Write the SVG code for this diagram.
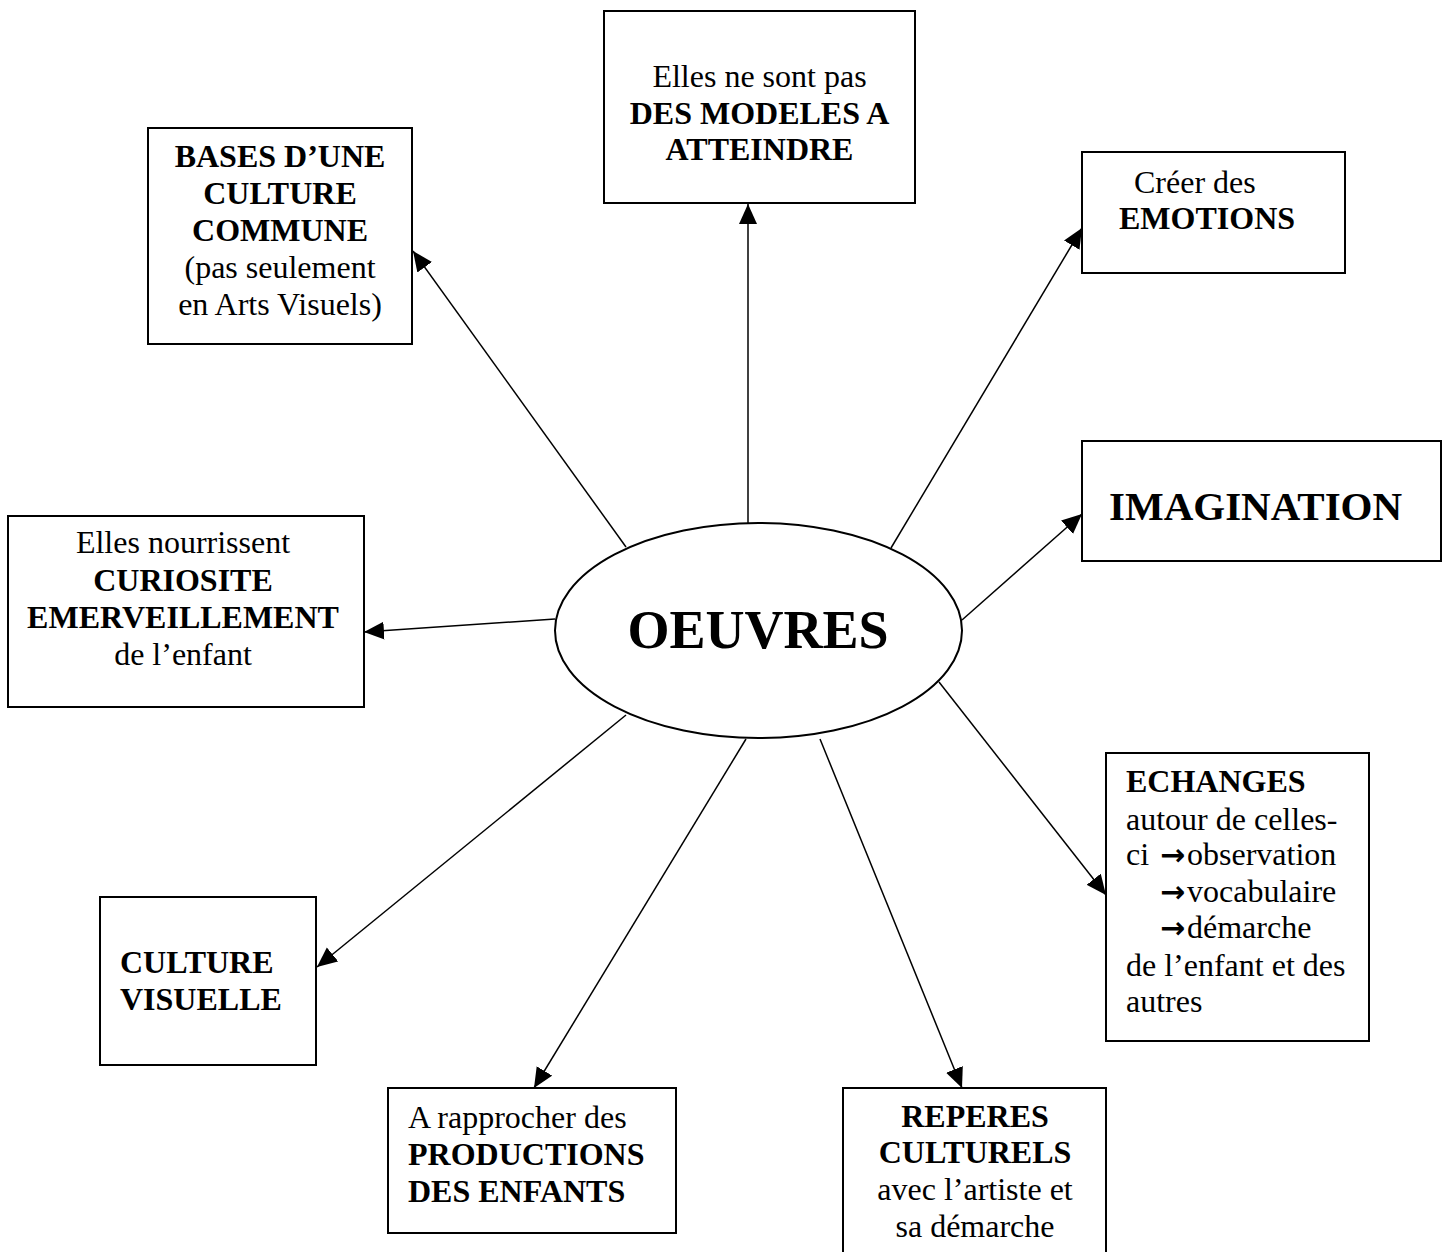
<svg xmlns="http://www.w3.org/2000/svg" width="1453" height="1252" viewBox="0 0 1453 1252">
<style>
  .box { fill: #fff; stroke: #000; stroke-width: 2; }
  .t { font-family: "Liberation Serif", "Times New Roman", serif; font-size: 32px; fill: #000; }
  .b { font-weight: bold; }
  .c { text-anchor: middle; }
  .ar { font-family: "DejaVu Sans", sans-serif; font-size: 30px; font-weight: bold; }
  .conn line { stroke: #000; stroke-width: 1.5; }
</style>
<defs>
  <marker id="ah" markerUnits="userSpaceOnUse" markerWidth="22" markerHeight="20" refX="20" refY="9" orient="auto">
    <path d="M0,0 L20,9 L0,18 z" fill="#000"/>
  </marker>
</defs>
<rect width="1453" height="1252" fill="#fff"/>

<g id="connectors" class="conn">
  <line x1="748" y1="523" x2="748" y2="204" marker-end="url(#ah)"/>
  <line x1="626" y1="547" x2="413" y2="251" marker-end="url(#ah)"/>
  <line x1="891" y1="548" x2="1082" y2="228" marker-end="url(#ah)"/>
  <line x1="962" y1="620" x2="1082" y2="514" marker-end="url(#ah)"/>
  <line x1="555" y1="619" x2="364" y2="632" marker-end="url(#ah)"/>
  <line x1="939" y1="682" x2="1106" y2="895" marker-end="url(#ah)"/>
  <line x1="626" y1="715" x2="317" y2="967" marker-end="url(#ah)"/>
  <line x1="746" y1="739" x2="534" y2="1088" marker-end="url(#ah)"/>
  <line x1="820" y1="739" x2="962" y2="1088" marker-end="url(#ah)"/>
</g>

<g id="oeuvres">
  <ellipse cx="758.5" cy="630.5" rx="203.5" ry="107.5" fill="#fff" stroke="#000" stroke-width="2"/>
  <text class="t b c" x="758" y="648" style="font-size:54px">OEUVRES</text>
</g>

<g id="modeles">
  <rect class="box" x="604" y="11" width="311" height="192"/>
  <text class="t c" x="759.5" y="87">Elles ne sont pas</text>
  <text class="t b c" x="759.5" y="124">DES MODELES A</text>
  <text class="t b c" x="759.5" y="160">ATTEINDRE</text>
</g>

<g id="bases">
  <rect class="box" x="148" y="128" width="264" height="216"/>
  <text class="t b c" x="280" y="167">BASES D’UNE</text>
  <text class="t b c" x="280" y="204">CULTURE</text>
  <text class="t b c" x="280" y="241">COMMUNE</text>
  <text class="t c" x="280" y="278">(pas seulement</text>
  <text class="t c" x="280" y="315">en Arts Visuels)</text>
</g>

<g id="emotions">
  <rect class="box" x="1082" y="152" width="263" height="121"/>
  <text class="t" x="1134" y="193">Créer des</text>
  <text class="t b" x="1119" y="229">EMOTIONS</text>
</g>

<g id="imagination">
  <rect class="box" x="1082" y="441" width="359" height="120"/>
  <text class="t b" x="1109" y="520" style="font-size:41px">IMAGINATION</text>
</g>

<g id="curiosite">
  <rect class="box" x="8" y="516" width="356" height="191"/>
  <text class="t c" x="183" y="553">Elles nourrissent</text>
  <text class="t b c" x="183" y="591">CURIOSITE</text>
  <text class="t b c" x="183" y="628">EMERVEILLEMENT</text>
  <text class="t c" x="183" y="665">de l’enfant</text>
</g>

<g id="echanges">
  <rect class="box" x="1106" y="753" width="263" height="288"/>
  <text class="t b" x="1126" y="792">ECHANGES</text>
  <text class="t" x="1126" y="830">autour de celles-</text>
  <text class="t" x="1126" y="865">ci <tspan class="ar" x="1160">→</tspan><tspan x="1187">observation</tspan></text>
  <text class="t" x="1160" y="902"><tspan class="ar">→</tspan><tspan x="1187">vocabulaire</tspan></text>
  <text class="t" x="1160" y="938"><tspan class="ar">→</tspan><tspan x="1187">démarche</tspan></text>
  <text class="t" x="1126" y="976">de l’enfant et des</text>
  <text class="t" x="1126" y="1012">autres</text>
</g>

<g id="culture-visuelle">
  <rect class="box" x="100" y="897" width="216" height="168"/>
  <text class="t b" x="120" y="973">CULTURE</text>
  <text class="t b" x="120" y="1010">VISUELLE</text>
</g>

<g id="productions">
  <rect class="box" x="388" y="1088" width="288" height="145"/>
  <text class="t" x="408" y="1128">A rapprocher des</text>
  <text class="t b" x="408" y="1165">PRODUCTIONS</text>
  <text class="t b" x="408" y="1202">DES ENFANTS</text>
</g>

<g id="reperes">
  <rect class="box" x="843" y="1088" width="263" height="180"/>
  <text class="t b c" x="975" y="1127">REPERES</text>
  <text class="t b c" x="975" y="1163">CULTURELS</text>
  <text class="t c" x="975" y="1200">avec l’artiste et</text>
  <text class="t c" x="975" y="1237">sa démarche</text>
</g>
</svg>
